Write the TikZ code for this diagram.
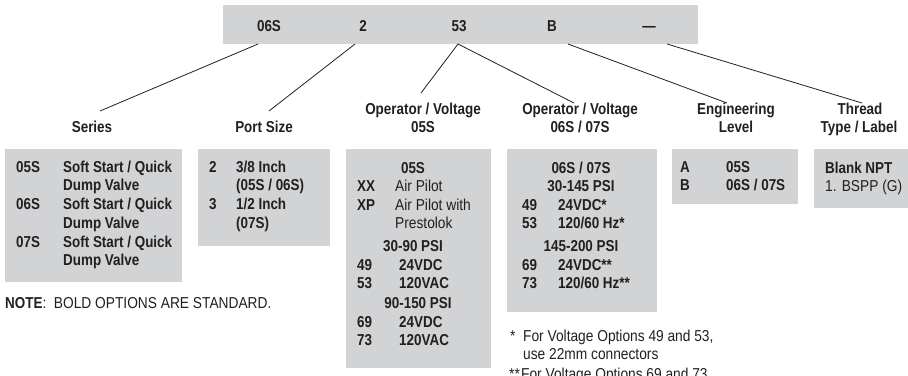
\documentclass[tikz,border=0pt]{standalone}
\usepackage{fontspec}
\setmainfont{Liberation Sans}[FakeStretch=0.87, BoldFeatures={FakeStretch=0.85}]
\definecolor{boxgray}{HTML}{D1D3D4}
\definecolor{ink}{HTML}{231F20}
\begin{document}
\begin{tikzpicture}[x=1pt,y=-1pt,
  font=\fontsize{15.8}{18.7}\selectfont,
  box/.style={fill=boxgray, draw=none, anchor=north west, inner sep=0pt, outer sep=0pt},
  tl/.style={anchor=base west, inner sep=0pt, text=ink},
  tc/.style={anchor=base, inner sep=0pt, text=ink},
  tlb/.style={tl, font=\fontsize{15.8}{18.7}\selectfont\bfseries},
  tcb/.style={tc, font=\fontsize{15.8}{18.7}\selectfont\bfseries},
  conn/.style={draw=ink, line width=0.8pt}]
\useasboundingbox (0,0) rectangle (908,375);
\clip (0,0) rectangle (908,375);
% boxes
\node[box, minimum width=475pt, minimum height=39pt] (bar) at (223,5) {};
\node[box, minimum width=177pt, minimum height=133pt] (seriesbox) at (5,149) {};
\node[box, minimum width=132pt, minimum height=97pt] (portbox) at (198,149) {};
\node[box, minimum width=145pt, minimum height=219pt] (opAbox) at (346,149) {};
\node[box, minimum width=150pt, minimum height=163pt] (opBbox) at (507,149) {};
\node[box, minimum width=126pt, minimum height=55pt] (engbox) at (672,149) {};
\node[box, minimum width=94pt, minimum height=59pt] (thrbox) at (814,149) {};
% bar texts
\node[tcb] (c1) at (269,31) {06S};
\node[tcb] (c2) at (363,31) {2};
\node[tcb] (c3) at (459,31) {53};
\node[tcb] (c4) at (552,31) {B};
\node[tcb] (c5) at (649,31) {—};
% headings
\node[tcb] (hser) at (92,132) {Series};
\node[tcb] (hport) at (264,132) {Port Size};
\node[tcb] (hopA1) at (423,114) {Operator / Voltage};
\node[tcb] (hopA2) at (423,132) {05S};
\node[tcb] (hopB1) at (580,114) {Operator / Voltage};
\node[tcb] (hopB2) at (580,132) {06S / 07S};
\node[tcb] (heng1) at (736,114) {Engineering};
\node[tcb] (heng2) at (736,132) {Level};
\node[tcb] (hthr1) at (860,114) {Thread};
\node[tcb] (hthr2) at (859,132) {Type / Label};
% connectors
\coordinate (s1) at (258,44);
\coordinate (s2) at (355,44);
\coordinate (s3) at (458,44);
\coordinate (s4) at (568,44);
\coordinate (s5) at (667,44);
\coordinate (e1) at (100,111);
\coordinate (e2) at (269,111);
\coordinate (e3) at (421,93);
\coordinate (e4) at (574,103);
\coordinate (e5) at (727,103);
\coordinate (e6) at (862,103);
\draw[conn] (s1) -- (e1);
\draw[conn] (s2) -- (e2);
\draw[conn] (s3) -- (e3);
\draw[conn] (s3) -- (e4);
\draw[conn] (s4) -- (e5);
\draw[conn] (s5) -- (e6);
% series box
\node[tlb] (sa1) at (16,172) {05S};
\node[tlb] (sb1) at (63,172) {Soft Start / Quick};
\node[tlb] (sb2) at (63,190.75) {Dump Valve};
\node[tlb] (sa3) at (16,209.5) {06S};
\node[tlb] (sb3) at (63,209.5) {Soft Start / Quick};
\node[tlb] (sb4) at (63,228.25) {Dump Valve};
\node[tlb] (sa5) at (16,247) {07S};
\node[tlb] (sb5) at (63,247) {Soft Start / Quick};
\node[tlb] (sb6) at (63,265.75) {Dump Valve};
\node[tl] (note) at (5,308) {\textbf{NOTE}:\ \ BOLD OPTIONS ARE STANDARD.};
% port box
\node[tlb] (pa1) at (209,172) {2};
\node[tlb] (pb1) at (236,172) {3/8 Inch};
\node[tlb] (pb2) at (236,190.75) {(05S / 06S)};
\node[tlb] (pa3) at (209,209.5) {3};
\node[tlb] (pb3) at (236,209.5) {1/2 Inch};
\node[tlb] (pb4) at (236,228.25) {(07S)};
% operator 05S box
\node[tcb] (oa0) at (413,173.3) {05S};
\node[tlb] (oa1) at (357,191.7) {XX};
\node[tl] (ob1) at (395,191.7) {Air Pilot};
\node[tlb] (oa2) at (357,210) {XP};
\node[tl] (ob2) at (395,210) {Air Pilot with};
\node[tl] (ob3) at (395,228.3) {Prestolok};
\node[tcb] (oa4) at (413,251.7) {30-90 PSI};
\node[tlb] (oa5) at (357,270) {49};
\node[tlb] (ob5) at (399,270) {24VDC};
\node[tlb] (oa6) at (357,288.3) {53};
\node[tlb] (ob6) at (399,288.3) {120VAC};
\node[tcb] (oa7) at (418,308.5) {90-150 PSI};
\node[tlb] (oa8) at (357,327) {69};
\node[tlb] (ob8) at (399,327) {24VDC};
\node[tlb] (oa9) at (357,345.3) {73};
\node[tlb] (ob9) at (399,345.3) {120VAC};
% operator 06S box
\node[tcb] (pp0) at (581,173.3) {06S / 07S};
\node[tcb] (pp1) at (581,191.7) {30-145 PSI};
\node[tlb] (pa2x) at (522,210) {49};
\node[tlb] (pb2x) at (558,210) {24VDC*};
\node[tlb] (pa3x) at (522,228.3) {53};
\node[tlb] (pb3x) at (558,228.3) {120/60 Hz*};
\node[tcb] (pp4) at (581,251.7) {145-200 PSI};
\node[tlb] (pa5x) at (522,270) {69};
\node[tlb] (pb5x) at (558,270) {24VDC**};
\node[tlb] (pa6x) at (522,288.3) {73};
\node[tlb] (pb6x) at (558,288.3) {120/60 Hz**};
% footnotes
\node[tl] (fa1) at (510,341) {*};
\node[tl] (fb1) at (523,341) {For Voltage Options 49 and 53,};
\node[tl] (fb2) at (523,359) {use 22mm connectors};
\node[tl] (fa3) at (509,379) {**};
\node[tl] (fb3) at (521,379) {For Voltage Options 69 and 73,};
% engineering
\node[tlb] (ea1) at (680,172) {A};
\node[tlb] (eb1) at (726,172) {05S};
\node[tlb] (ea2) at (680,190.75) {B};
\node[tlb] (eb2) at (726,190.75) {06S / 07S};
% thread
\node[tlb] (ta1) at (825,173) {Blank NPT};
\node[tl] (ta2) at (825,191.7) {1. BSPP (G)};
\end{tikzpicture}
\end{document}
